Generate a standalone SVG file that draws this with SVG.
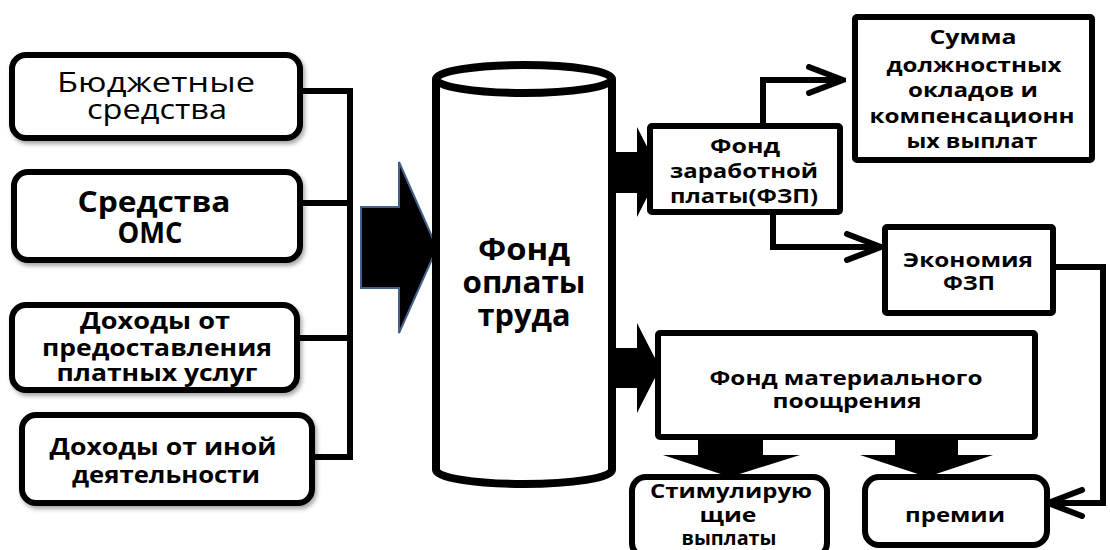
<svg xmlns="http://www.w3.org/2000/svg" width="1110" height="550" viewBox="0 0 1110 550">
<defs>
<style>
.box{fill:#fff;stroke:#000;stroke-width:6}
.t{font-family:"Open Sans","DejaVu Sans",sans-serif;font-weight:bold;fill:#000;text-anchor:middle}
.r{font-weight:normal}
.ln{fill:none;stroke:#000;stroke-width:6}
.big{fill:#000}
</style>
<filter id="sh" x="-10%" y="-10%" width="130%" height="130%">
<feDropShadow dx="2" dy="3" stdDeviation="2" flood-color="#000" flood-opacity="0.35"/>
</filter>
<marker id="oa" viewBox="0 0 40 32" refX="37" refY="16" markerWidth="40" markerHeight="32" markerUnits="userSpaceOnUse" orient="auto">
<path d="M3,3 L37,16 L3,29" fill="none" stroke="#000" stroke-width="6" stroke-linecap="round" stroke-linejoin="miter"/>
</marker>
</defs>
<rect width="1110" height="550" fill="#fff"/>

<g id="connectors">
<path class="ln" d="M300,91 H353 M350,88 V460 M300,203 H353 M297,338 H353 M312,457 H353"/>
<polygon points="361,207 399,207 399,162 437,248 399,333 399,288 361,288" fill="#000" stroke="#41618c" stroke-width="2"/>
<polygon class="big" points="610,152 637,152 637,127 660,172 637,217 637,193 610,193"/>
<polygon class="big" points="610,348 637,348 637,323 660,368 637,413 637,388 610,388"/>
<polygon class="big" points="698,435 763,435 763,455 800,455 730,477 663,455 698,455"/>
<polygon class="big" points="895,435 958,435 958,455 993,455 927,477 860,455 895,455"/>
<path class="ln" d="M763,127 V80 H843" marker-end="url(#oa)"/>
<path class="ln" d="M773,211 V247 H881" marker-end="url(#oa)"/>
<path class="ln" d="M1052,267 H1103 V503 H1048" marker-end="url(#oa)"/>
</g>

<g id="n-budget">
<rect class="box" x="12" y="55" width="288" height="83" rx="14" filter="url(#sh)"/>
<text class="t r" font-size="27" x="156" y="92" textLength="198" lengthAdjust="spacingAndGlyphs">Бюджетные</text>
<text class="t r" font-size="27" x="157" y="119" textLength="140" lengthAdjust="spacingAndGlyphs">средства</text>
</g>

<g id="n-oms">
<rect class="box" x="14" y="172" width="286" height="88" rx="14" filter="url(#sh)"/>
<text class="t" font-size="28" x="154" y="212" textLength="153" lengthAdjust="spacingAndGlyphs">Средства</text>
<text class="t" font-size="28" x="150" y="243" textLength="65" lengthAdjust="spacingAndGlyphs">ОМС</text>
</g>

<g id="n-paid">
<rect class="box" x="12" y="305" width="285" height="85" rx="14" filter="url(#sh)"/>
<text class="t" font-size="23" x="155" y="329" textLength="150" lengthAdjust="spacingAndGlyphs">Доходы от</text>
<text class="t" font-size="23" x="157" y="356" textLength="230" lengthAdjust="spacingAndGlyphs">предоставления</text>
<text class="t" font-size="23" x="157" y="381" textLength="201" lengthAdjust="spacingAndGlyphs">платных услуг</text>
</g>

<g id="n-other">
<rect class="box" x="22" y="415" width="290" height="88" rx="14" filter="url(#sh)"/>
<text class="t" font-size="24" x="163" y="455" textLength="227" lengthAdjust="spacingAndGlyphs">Доходы от иной</text>
<text class="t" font-size="24" x="166" y="483" textLength="188" lengthAdjust="spacingAndGlyphs">деятельности</text>
</g>

<g id="n-fot">
<path d="M436,79 V470 A88,14 0 0 0 612,470 V79" fill="#fff" stroke="#000" stroke-width="8"/>
<ellipse cx="524" cy="79" rx="88" ry="14" fill="#fff" stroke="#000" stroke-width="8"/>
<text class="t" font-size="30" x="524" y="260" textLength="92" lengthAdjust="spacingAndGlyphs">Фонд</text>
<text class="t" font-size="30" x="524" y="293" textLength="123" lengthAdjust="spacingAndGlyphs">оплаты</text>
<text class="t" font-size="30" x="524" y="326" textLength="93" lengthAdjust="spacingAndGlyphs">труда</text>
</g>

<g id="n-fzp">
<rect class="box" x="650" y="126" width="190" height="86" rx="2"/>
<text class="t" font-size="19" x="745" y="153" textLength="70" lengthAdjust="spacingAndGlyphs">Фонд</text>
<text class="t" font-size="19" x="744" y="178" textLength="148" lengthAdjust="spacingAndGlyphs">заработной</text>
<text class="t" font-size="19" x="744" y="203" textLength="148" lengthAdjust="spacingAndGlyphs">платы(ФЗП)</text>
</g>

<g id="n-sum">
<rect class="box" x="855" y="17" width="237" height="143" rx="2"/>
<text class="t" font-size="19" x="973" y="44" textLength="87" lengthAdjust="spacingAndGlyphs">Сумма</text>
<text class="t" font-size="19" x="974" y="72" textLength="175" lengthAdjust="spacingAndGlyphs">должностных</text>
<text class="t" font-size="19" x="973" y="97" textLength="130" lengthAdjust="spacingAndGlyphs">окладов и</text>
<text class="t" font-size="19" x="972" y="123" textLength="205" lengthAdjust="spacingAndGlyphs">компенсационн</text>
<text class="t" font-size="19" x="972" y="148" textLength="131" lengthAdjust="spacingAndGlyphs">ых выплат</text>
</g>

<g id="n-econ">
<rect class="box" x="885" y="227" width="168" height="86" rx="2"/>
<text class="t" font-size="19" x="968" y="267" textLength="130" lengthAdjust="spacingAndGlyphs">Экономия</text>
<text class="t" font-size="19" x="969" y="290" textLength="52" lengthAdjust="spacingAndGlyphs">ФЗП</text>
</g>

<g id="n-fmp">
<rect class="box" x="658" y="333" width="377" height="104" rx="2"/>
<text class="t" font-size="19" x="846" y="385" textLength="273" lengthAdjust="spacingAndGlyphs">Фонд материального</text>
<text class="t" font-size="19" x="847" y="408" textLength="149" lengthAdjust="spacingAndGlyphs">поощрения</text>
</g>

<g id="n-stim">
<rect class="box" x="632" y="477" width="195" height="80" rx="14"/>
<text class="t" font-size="19" x="731" y="498" textLength="162" lengthAdjust="spacingAndGlyphs">Стимулирую</text>
<text class="t" font-size="19" x="728" y="522" textLength="57" lengthAdjust="spacingAndGlyphs">щие</text>
<text class="t" font-size="19" x="729" y="545" textLength="95" lengthAdjust="spacingAndGlyphs">выплаты</text>
</g>

<g id="n-prem">
<rect class="box" x="865" y="477" width="182" height="68" rx="14"/>
<text class="t" font-size="19" x="955" y="522" textLength="100" lengthAdjust="spacingAndGlyphs">премии</text>
</g>
</svg>
